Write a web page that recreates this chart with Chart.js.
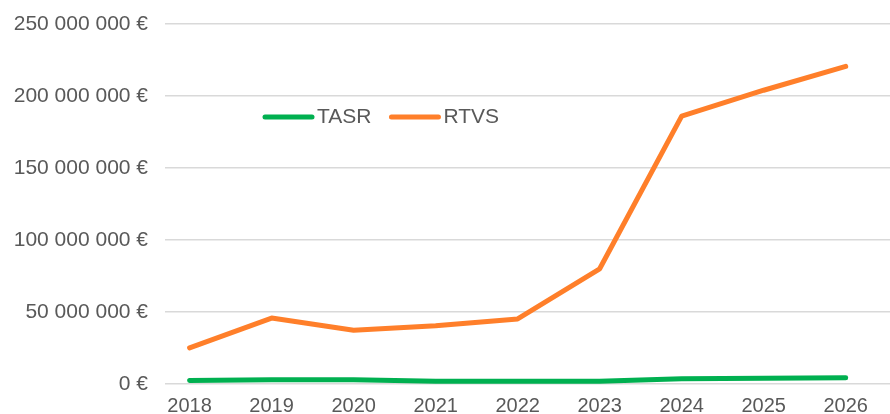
<!DOCTYPE html>
<html lang="sk">
  <head>
    <meta charset="UTF-8" />
    <title>TASR / RTVS</title>
    <script src="https://cdn.jsdelivr.net/npm/chart.js"></script>
    <style>
      body { margin: 0; background: #ffffff; }
      #wrap { width: 890px; height: 414px; }
    </style>
  </head>
  <body>
    <div id="wrap"><canvas id="budgetChart" width="890" height="414"></canvas></div>

    <script>
      const years = [2018, 2019, 2020, 2021, 2022, 2023, 2024, 2025, 2026];
      const tasr = [2.4e6, 2.9e6, 2.9e6, 1.9e6, 1.9e6, 1.9e6, 3.6e6, 4.0e6, 4.3e6];
      const rtvs = [25.1e6, 45.8e6, 37.3e6, 40.5e6, 45.2e6, 80e6, 186e6, 204e6, 220.6e6];
      const yTicks = [0, 50e6, 100e6, 150e6, 200e6, 250e6];

      const textColor = "#595959";
      const font = { family: "'Liberation Sans', Arial, sans-serif", size: 21 };
      const xFont = { family: "'Liberation Sans', Arial, sans-serif", size: 20 };

      function euro(v) {
        return String(v).replace(/\B(?=(\d{3})+(?!\d))/g, " ") + " €";
      }

      // legend sits inside the plot area, drawn by hand
      const insideLegend = {
        id: "insideLegend",
        afterDraw(chart) {
          const ctx = chart.ctx;
          const area = chart.chartArea;
          let x = area.left + 100;
          const y = area.top + 93;
          ctx.save();
          ctx.font = font.size + "px " + font.family;
          ctx.textBaseline = "middle";
          chart.data.datasets.forEach((ds) => {
            ctx.strokeStyle = ds.borderColor;
            ctx.lineWidth = 5;
            ctx.lineCap = "round";
            ctx.beginPath();
            ctx.moveTo(x, y);
            ctx.lineTo(x + 47, y);
            ctx.stroke();
            ctx.fillStyle = textColor;
            ctx.fillText(ds.label, x + 52, y);
            x += 52 + ctx.measureText(ds.label).width + 20;
          });
          ctx.restore();
        },
      };

      const data = {
        datasets: [
          {
            label: "TASR",
            data: years.map((y, i) => ({ x: y, y: tasr[i] })),
            borderColor: "#00b050",
            backgroundColor: "#00b050",
          },
          {
            label: "RTVS",
            data: years.map((y, i) => ({ x: y, y: rtvs[i] })),
            borderColor: "#ff7f2a",
            backgroundColor: "#ff7f2a",
          },
        ],
      };

      const config = {
        type: "line",
        data,
        plugins: [insideLegend],
        options: {
          responsive: false,
          animation: false,
          layout: {
            autoPadding: false,
            padding: { top: 24, right: 0, bottom: 0, left: 0 },
          },
          elements: {
            line: {
              borderWidth: 5,
              tension: 0,
              borderCapStyle: "round",
              borderJoinStyle: "round",
            },
            point: { radius: 0 },
          },
          scales: {
            x: {
              type: "linear",
              min: 2017.7,
              max: 2026.54,
              afterFit: (scale) => {
                scale.height = 30;
                scale.paddingLeft = scale.paddingRight = 0;
              },
              grid: { display: false, drawTicks: false },
              border: { display: false },
              ticks: {
                stepSize: 1,
                includeBounds: false,
                autoSkip: false,
                maxRotation: 0,
                padding: 10,
                color: textColor,
                font: xFont,
                callback: (v) => (years.includes(v) ? String(v) : ""),
              },
            },
            y: {
              min: 0,
              max: 250e6,
              afterFit: (scale) => {
                scale.width = 165;
                scale.paddingTop = scale.paddingBottom = 0;
              },
              afterBuildTicks: (scale) => {
                scale.ticks = yTicks.map((v) => ({ value: v }));
              },
              grid: { color: "#d9d9d9", lineWidth: 1.5, drawTicks: false },
              border: { display: false },
              ticks: {
                padding: 17,
                color: textColor,
                font: font,
                callback: (v) => euro(v),
              },
            },
          },
          plugins: {
            legend: { display: false },
            tooltip: { enabled: false },
          },
        },
      };

      const budgetChart = new Chart(document.getElementById("budgetChart"), config);
    </script>
  </body>
</html>
